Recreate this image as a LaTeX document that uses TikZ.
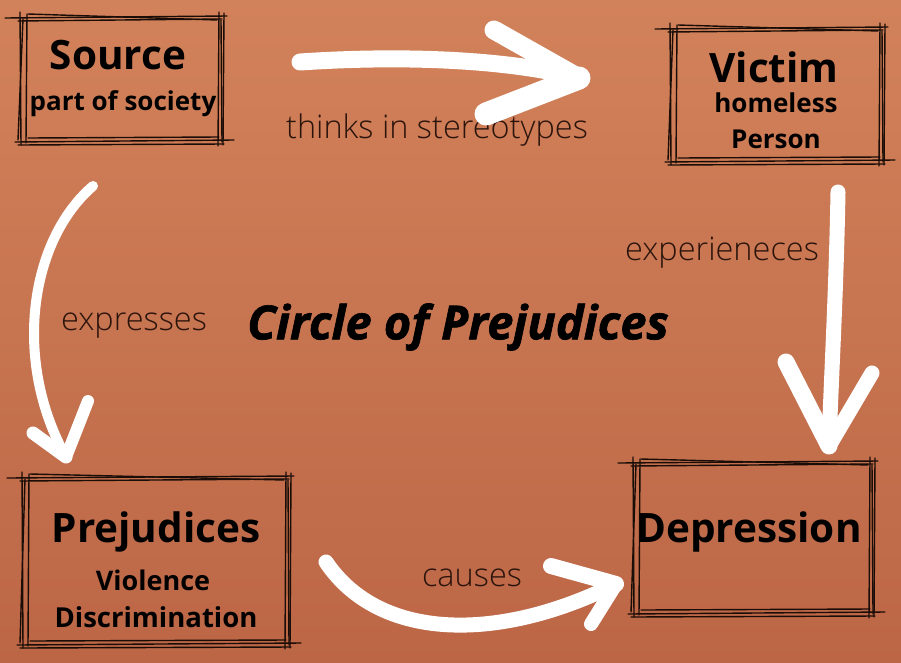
\documentclass[tikz,border=0pt]{standalone}
\usepackage{fontspec}
\setmainfont{Open Sans}
\newfontfamily\lightfont{Open Sans Light}
\newfontfamily\titlefont[BoldItalicFeatures={FakeBold=1.4}]{Open Sans}
\definecolor{bgtop}{HTML}{D2825A}
\definecolor{bgbot}{HTML}{BC6646}
\definecolor{inkc}{HTML}{1A0D08}
\definecolor{labc}{HTML}{2B140C}
\newcommand\sketchframe[4]{%
  \draw[frame] ({#1-15},{#2+1}) -- ({#3+8},{#2-1});
  \draw[frame] ({#1+8},{#2-3}) -- ({#3-2},{#2+3});
  \draw[frame] ({#1-2},{#2+4}) -- ({#3+3},{#2+2});
  \draw[frame] ({#1},{#2-5}) -- ({#1+1},{#4+5});
  \draw[frame] ({#1+7},{#2-3}) -- ({#1+6},{#4+3});
  \draw[frame] ({#1+3},{#2+2}) -- ({#1-2},{#4});
  \draw[frame] ({#3},{#2-5}) -- ({#3-1},{#4+6});
  \draw[frame] ({#3+5},{#2-4}) -- ({#3+4},{#4+5});
  \draw[frame] ({#3+2},{#2+3}) -- ({#3+3},{#4+2});
  \draw[frame] ({#1-5},{#4+2}) -- ({#3+15},{#4});
  \draw[frame] ({#1+8},{#4-2}) -- ({#3},{#4-3});
  \draw[frame] ({#1-2},{#4+5}) -- ({#3+5},{#4+4});
}
\begin{document}
\begin{tikzpicture}[x=1pt,y=-1pt,
  frame/.style={draw=inkc,line width=1.4pt,line cap=round},
  head/.style={font=\bfseries\fontsize{40.5}{42}\selectfont,text=black,inner sep=0pt},
  sub/.style={font=\bfseries\fontsize{26}{28}\selectfont,text=black,inner sep=0pt},
  lab/.style={font=\lightfont\fontsize{32.5}{34}\selectfont,text=labc,inner sep=0pt},
  brush/.style={draw=white,line cap=round,line join=round}]
\useasboundingbox (0,0) rectangle (901,662);
\shade[top color=bgtop,bottom color=bgbot] (0,0) rectangle (901,662);

% frames
\sketchframe{20}{17}{219}{140}
\sketchframe{670}{28}{880}{160}
\sketchframe{22}{477}{286}{643}
\sketchframe{633}{462}{870}{612}

% node texts
\node[head] (src) at (118,55) {Source};
\node[sub] (srcs) at (123,104) {part of society};
\node[head] (vic) at (774,67) {Victim};
\node[sub] (vics1) at (776,103) {homeless};
\node[sub] (vics2) at (776,139) {Person};
\node[head] (pre) at (156,532) {Prejudices};
\node[sub,font=\bfseries\fontsize{27}{28}\selectfont] (pres1) at (153,580) {Violence};
\node[sub,font=\bfseries\fontsize{27.5}{28}\selectfont] (pres2) at (156,617) {Discrimination};
\node[head] (dep) at (749,532) {Depression};
\node[font=\titlefont\bfseries\itshape\fontsize{47}{49}\selectfont,inner sep=0pt] (title) at (458,327) {Circle of Prejudices};

% labels
\node[lab] (l1) at (437,130) {thinks in stereotypes};
\node[lab] (l2) at (722,253) {experieneces};
\node[lab] (l3) at (134,326) {expresses};
\node[lab] (l4) at (472,578) {causes};

% arrow coordinates
\coordinate (a1s) at (300,62);
\coordinate (a1t) at (579,78);
\coordinate (a2s) at (838,192);
\coordinate (a2t) at (829,446);
\coordinate (a3s) at (93,186);
\coordinate (a3t) at (66,457);
\coordinate (a4s) at (326,562);
\coordinate (a4t) at (616,584);

% top arrow
\draw[brush,line width=17pt] (a1s) .. controls (420,54) and (520,62) .. (a1t);
\draw[brush,line width=19pt] (494,30) -- (a1t);
\draw[brush,line width=23pt] (486,114) -- (a1t);
% right arrow
\draw[brush,line width=15pt] (a2s) .. controls (836,300) and (831,380) .. (a2t);
\draw[brush,line width=17pt] (786,362) -- (a2t);
\draw[brush,line width=15pt] (872,373) -- (a2t);
% left arrow
\draw[brush,line width=10pt] (a3s) .. controls (30,240) and (12,360) .. (a3t);
\draw[brush,line width=13pt] (33,433) -- (a3t);
\draw[brush,line width=12pt] (88,401) -- (a3t);
% bottom arrow
\draw[brush,line width=15pt] (a4s) .. controls (380,642) and (500,642) .. (a4t);
\draw[brush,line width=16pt] (551,566) -- (a4t);
\draw[brush,line width=14pt] (591,624) -- (a4t);
\end{tikzpicture}
\end{document}
